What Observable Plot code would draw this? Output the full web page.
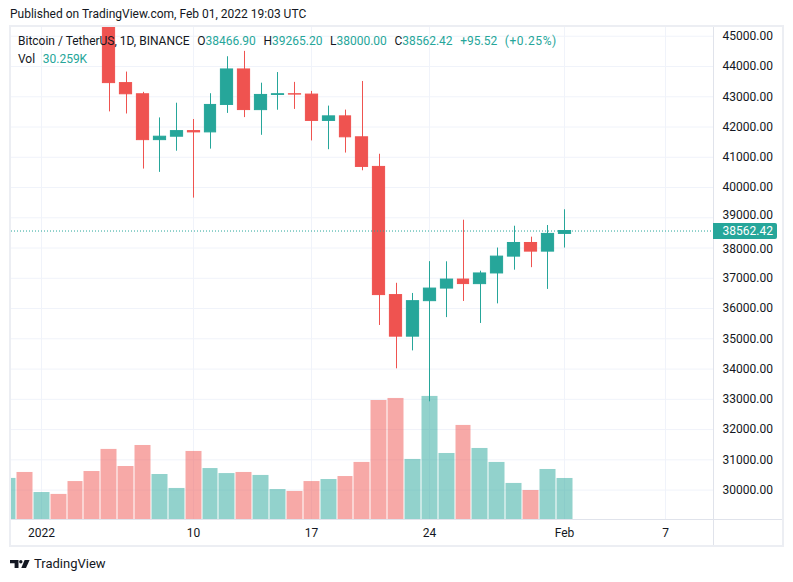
<!DOCTYPE html>
<html><head><meta charset="utf-8">
<script src="https://cdn.jsdelivr.net/npm/d3@7"></script>
<script src="https://cdn.jsdelivr.net/npm/@observablehq/plot@0.6"></script>
<style>
html,body{margin:0;padding:0;background:#fff;}
body{font-family:Roboto,"Open Sans",sans-serif;color:#131722;}
#root{position:relative;width:793px;height:582px;overflow:hidden;background:#fff;}
.abs{position:absolute;}
.layer{position:absolute;left:11px;top:27px;}
.layer svg{overflow:visible;}
.v{color:#26a69a;}
#legend span.item{margin-right:7.6px;}
</style></head><body><div id="root"></div>
<script>
// ---- data ----
const dates = ["2021-12-30","2021-12-31","2022-01-01","2022-01-02","2022-01-03","2022-01-04","2022-01-05","2022-01-06","2022-01-07","2022-01-08","2022-01-09","2022-01-10","2022-01-11","2022-01-12","2022-01-13","2022-01-14","2022-01-15","2022-01-16","2022-01-17","2022-01-18","2022-01-19","2022-01-20","2022-01-21","2022-01-22","2022-01-23","2022-01-24","2022-01-25","2022-01-26","2022-01-27","2022-01-28","2022-01-29","2022-01-30","2022-01-31","2022-02-01"];
const opens  = [46464.66,47120.88,46216.93,47722.66,47286.18,46446.10,45832.01,43451.14,43082.30,41566.48,41679.74,41864.62,41822.49,42729.29,43902.65,42558.35,43059.96,43084.29,43071.66,42201.63,42352.12,41660.00,40680.92,36445.31,35071.42,36244.55,36660.35,36958.32,36807.24,37160.11,37716.57,38166.83,37881.75,38466.90];
const highs  = [47900.00,48548.26,47954.63,47990.00,47570.00,47557.54,47070.00,43816.00,43145.83,42300.00,42786.70,42248.50,43100.00,44322.00,44500.00,43448.78,43800.00,43475.00,43176.18,42691.00,42559.13,43505.00,41100.00,36835.22,36499.00,37550.00,37545.14,38919.98,37234.47,38000.00,38720.74,38359.26,38744.00,39265.20];
const lows   = [45900.00,45678.00,46208.37,46654.00,45696.00,45500.00,42500.00,42430.58,40610.00,40501.00,41200.02,39650.00,41268.93,42450.00,42311.22,41725.95,42555.00,42581.79,41540.42,41250.00,41138.56,40553.31,35440.45,34008.00,34601.01,32917.17,35701.00,36234.63,35507.01,36155.01,37268.44,37351.63,36632.61,38000.00];
const closes = [47120.87,46216.93,47722.65,47286.18,46446.10,45832.01,43451.13,43082.31,41566.48,41679.74,41864.62,41822.49,42729.29,43902.66,42560.11,43059.96,43084.29,43071.66,42201.62,42352.12,41660.01,40680.91,36445.31,35071.42,36244.55,36660.35,36958.32,36809.34,37160.10,37716.56,38166.84,37881.76,38466.90,38562.42];
const volumes = [30300,34700,19900,18500,28000,35400,51700,39100,54600,33200,22900,50200,37600,33900,34700,32500,22100,20700,28000,29500,31700,42100,87800,89300,44300,90800,48700,69400,52400,42100,26600,21400,36900,30259];
const timeTicks = ["2022-01-01","2022-01-10","2022-01-17","2022-01-24","2022-02-01","2022-02-07"];
const timeTickLabels = ["2022","10","17","24","Feb","7"];
const priceTicks = [30000,31000,32000,33000,34000,35000,36000,37000,38000,39000,40000,41000,42000,43000,44000,45000];
const symbolText = "Bitcoin / TetherUS, 1D, BINANCE";
const publishedText = "Published on TradingView.com, Feb 01, 2022 19:03 UTC";

// ---- build ----
const GREEN = "#26a69a", RED = "#ef5350", GRID = "#f0f3fa", INK = "#131722";
const rows = dates.map((d, i) => ({date: new Date(d), open: opens[i], high: highs[i], low: lows[i], close: closes[i], volume: volumes[i]}));
const colorOf = d => d.close >= d.open ? GREEN : RED;
const x1 = d => d3.utcHour.offset(d.date, -12);
const x2 = d => d3.utcHour.offset(d.date, 12);
const tickDates = timeTicks.map(d => new Date(d));
const labelMap = new Map(tickDates.map((d, i) => [+d, timeTickLabels[i]]));
const f2 = d3.format(".2f");
const last = rows[rows.length - 1];
const prev = rows[rows.length - 2];

const W = 771, H = 519;
const common = {
  width: W, height: H, marginLeft: 0, marginRight: 69, marginTop: 0, marginBottom: 27,
  style: {background: "transparent", fontFamily: "Roboto, sans-serif", fontSize: "12px", color: INK, overflow: "visible"}
};
const xDomain = [new Date(Date.UTC(2021, 11, 30, 4, 54)), new Date(Date.UTC(2022, 1, 9, 19, 36))];
const yDomain = [29028, 45289];

const root = document.getElementById("root");
function addLayer(svg) {
  const d = document.createElement("div");
  d.className = "layer";
  d.appendChild(svg);
  root.appendChild(d);
}

// frame
const frame = document.createElement("div");
frame.className = "abs";
Object.assign(frame.style, {left: "9px", top: "25px", width: "775px", height: "522px", boxSizing: "border-box", border: "2px solid #eceef3"});
root.appendChild(frame);

// grid layer
const gridPlot = Plot.plot({
  ...common,
  x: {type: "utc", domain: xDomain, axis: null, round: true},
  y: {domain: yDomain, axis: null},
  marks: [
    Plot.ruleY(priceTicks, {stroke: GRID, strokeWidth: 1}),
    Plot.ruleX(tickDates, {stroke: GRID, strokeWidth: 1})
  ]
});
addLayer(gridPlot);

// volume layer
const volPlot = Plot.plot({
  ...common,
  x: {type: "utc", domain: xDomain, axis: null, round: true},
  y: {domain: [0, 363000], axis: null},
  color: {type: "identity"},
  marks: [
    Plot.rect(rows, {x1, x2, y1: 0, y2: "volume", fill: colorOf, fillOpacity: 0.5, insetLeft: 0.5, insetRight: 0.5, clip: true})
  ]
});
addLayer(volPlot);

// price tick labels: the ones next to the last-price tag are nudged away from it
const near = 700;
const ticksFar = priceTicks.filter(t => Math.abs(t - last.close) > near);
const ticksAbove = priceTicks.filter(t => t > last.close && t - last.close <= near);
const ticksBelow = priceTicks.filter(t => t <= last.close && last.close - t <= near);
const tickText = (data, dy) => Plot.text(data, {y: d => d, text: d => f2(d), frameAnchor: "right", textAnchor: "start", dx: 9, dy, fill: INK, fontSize: 12});

// candle layer with axes
const pricePlot = Plot.plot({
  ...common,
  x: {type: "utc", domain: xDomain, round: true, ticks: tickDates, tickFormat: d => labelMap.get(+d), tickSize: 0, tickPadding: 9, label: null},
  y: {domain: yDomain, axis: null},
  color: {type: "identity"},
  marks: [
    Plot.ruleX(rows, {x: "date", y1: "low", y2: "high", stroke: colorOf, strokeWidth: 1, clip: true}),
    Plot.rect(rows, {x1, x2, y1: "open", y2: "close", fill: colorOf, stroke: colorOf, strokeWidth: 1, insetLeft: 2.4, insetRight: 2.4, clip: true}),
    Plot.ruleY([last.close], {stroke: GREEN, strokeWidth: 1, strokeDasharray: "1,2"}),
    tickText(ticksFar, 0),
    tickText(ticksAbove, -3),
    tickText(ticksBelow, 1.5)
  ]
});
addLayer(pricePlot);

// separators
const sepV = document.createElement("div");
sepV.className = "abs";
Object.assign(sepV.style, {left: "713px", top: "27px", width: "1px", height: "518px", background: "#e0e3eb"});
root.appendChild(sepV);
const sepH = document.createElement("div");
sepH.className = "abs";
Object.assign(sepH.style, {left: "11px", top: "519px", width: "771px", height: "1px", background: "#e0e3eb"});
root.appendChild(sepH);

// current price label
const yPix = pricePlot.scale("y").apply(last.close);
const pl = document.createElement("div");
pl.className = "abs";
pl.textContent = f2(last.close);
Object.assign(pl.style, {left: "713px", top: (27 + yPix - 8) + "px", width: "64px", height: "16.5px", lineHeight: "16.5px", background: GREEN, color: "#fff", fontSize: "12px", paddingLeft: "9.5px", boxSizing: "border-box", borderRadius: "0 2px 2px 0"});
root.appendChild(pl);

// legend
const chg = last.close - prev.close;
const pct = chg / prev.close * 100;
const sign = v => (v >= 0 ? "+" : "");
const legend = document.createElement("div");
legend.id = "legend";
legend.className = "abs";
Object.assign(legend.style, {left: "18px", top: "33px", fontSize: "12px", lineHeight: "17.6px", whiteSpace: "nowrap"});
legend.innerHTML =
  `<div><span class="item">${symbolText}</span>` +
  `<span class="item">O<span class="v">${f2(last.open)}</span></span>` +
  `<span class="item">H<span class="v">${f2(last.high)}</span></span>` +
  `<span class="item">L<span class="v">${f2(last.low)}</span></span>` +
  `<span class="item">C<span class="v">${f2(last.close)}</span></span>` +
  `<span class="item v">${sign(chg)}${f2(chg)}</span>` +
  `<span class="v" style="letter-spacing:0.6px">(${sign(pct)}${f2(pct)}%)</span></div>` +
  `<div><span class="item">Vol</span><span class="v">${(last.volume / 1000).toFixed(3)}K</span></div>`;
root.appendChild(legend);

// header
const hdr = document.createElement("div");
hdr.className = "abs";
hdr.textContent = publishedText;
Object.assign(hdr.style, {left: "10px", top: "6px", fontSize: "12px", lineHeight: "17px", whiteSpace: "nowrap"});
root.appendChild(hdr);

// footer logo
const foot = document.createElement("div");
foot.className = "abs";
Object.assign(foot.style, {left: "10px", top: "555px", height: "17px", display: "flex", alignItems: "center", gap: "4px", fontSize: "13px", whiteSpace: "nowrap"});
foot.innerHTML = `<svg width="20" height="8" viewBox="0 0 20 8"><path d="M0 0H8.5V8H4.6V3.3H0Z" fill="#131722"/><circle cx="10.8" cy="1.7" r="1.7" fill="#131722"/><path d="M14.6 0H19.6L16 8H11.3Z" fill="#131722"/></svg><span>TradingView</span>`;
root.appendChild(foot);
</script>
</body></html>
